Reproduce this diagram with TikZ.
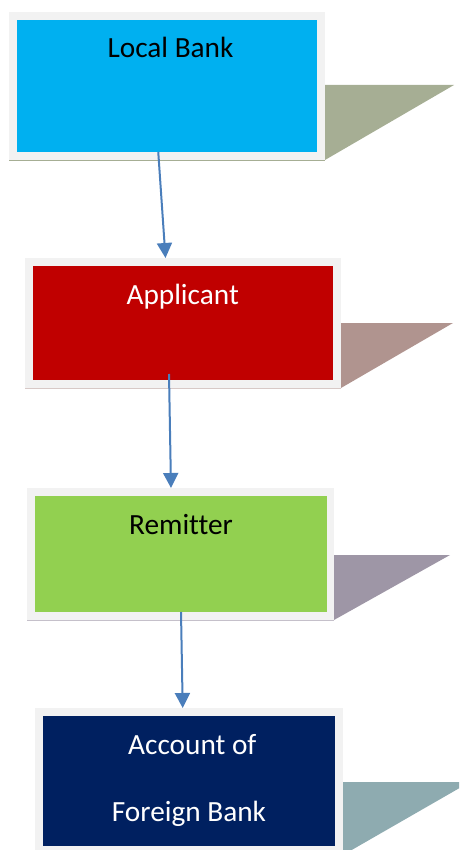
\documentclass[tikz,border=0pt]{standalone}
\usepackage{fontspec}
\setmainfont{Carlito}[Ligatures=NoCommon]
\usetikzlibrary{arrows.meta}
\definecolor{frameg}{HTML}{F2F2F2}
\definecolor{cblue}{HTML}{00B0F0}
\definecolor{cred}{HTML}{C00000}
\definecolor{cgreen}{HTML}{92D050}
\definecolor{cnavy}{HTML}{002060}
\definecolor{shA}{HTML}{A6AE94}
\definecolor{shB}{HTML}{B0948F}
\definecolor{shC}{HTML}{9E96A6}
\definecolor{shD}{HTML}{8EABB0}
\definecolor{arrowc}{HTML}{4A7EBB}
\begin{document}
\begin{tikzpicture}[x=1pt,y=-1pt,
  inner/.style={anchor=north west, inner sep=0pt, outer sep=0pt, draw=none},
  outer/.style={anchor=north west, inner sep=0pt, outer sep=0pt, fill=frameg, draw=none},
  lbl/.style={anchor=base, inner sep=0pt, font=\fontsize{29.3}{32}\selectfont},
  conn/.style={draw=arrowc, line width=2pt, -{Triangle[width=15pt,length=15pt]}}]
\useasboundingbox (0,0) rectangle (459,850);
\clip (0,0) rectangle (459,850);
% shadows
\fill[shA] (325,85) -- (454,85) -- (325,160) -- cycle;
\fill[shB] (341,323) -- (453,323) -- (341,388) -- cycle;
\fill[shC] (334,555) -- (450,555) -- (334,620) -- cycle;
\fill[shD] (343,782) -- (470,782) -- (343,855) -- cycle;
% frames
\node[outer, minimum width=316pt, minimum height=148pt] (f1) at (9,12) {};
\draw[shA, line width=0.8pt] (f1.south west) -- (f1.south east);
\node[outer, minimum width=316pt, minimum height=130pt] (f2) at (25,258) {};
\draw[shB!50, line width=0.8pt] (f2.south west) -- (f2.south east);
\node[outer, minimum width=307pt, minimum height=132pt] (f3) at (27,488) {};
\draw[shC!60, line width=0.8pt] (f3.south west) -- (f3.south east);
\node[outer, minimum width=308pt, minimum height=150pt] (f4) at (35,708) {};
% inner boxes
\node[inner, fill=cblue, minimum width=300.5pt, minimum height=132pt] (b1) at (16.7,20) {};
\node[inner, fill=cred, minimum width=300pt, minimum height=114pt] (b2) at (33,266) {};
\node[inner, fill=cgreen, minimum width=292pt, minimum height=116pt] (b3) at (35,496) {};
\node[inner, fill=cnavy, minimum width=292pt, minimum height=130pt] (b4) at (43,716) {};
% labels
\node[lbl, text=black] (t1) at (170.5,57.3) {Local Bank};
\node[lbl, text=white] (t2) at (182.7,304.3) {Applicant};
\node[lbl, text=black] (t3) at (181,534) {Remitter};
\node[lbl, text=white] (t4a) at (192.3,754) {Account of};
\node[lbl, text=white] (t4b) at (189,821.7) {Foreign Bank};
% connectors
\coordinate (s1) at ([xshift=-8.7pt]b1.south);
\coordinate (e1) at (165.5,258);
\coordinate (s2) at (169,374);
\coordinate (e2) at (171,495);
\coordinate (s3) at ([xshift=0pt]b3.south);
\coordinate (e3) at (182.7,715);
\draw[conn] (s1) -- (e1 |- f2.north);
\draw[conn] (s2) -- (e2 |- f3.north);
\draw[conn] (s3 |- b3.south) -- (e3 |- f4.north);
\end{tikzpicture}
\end{document}
